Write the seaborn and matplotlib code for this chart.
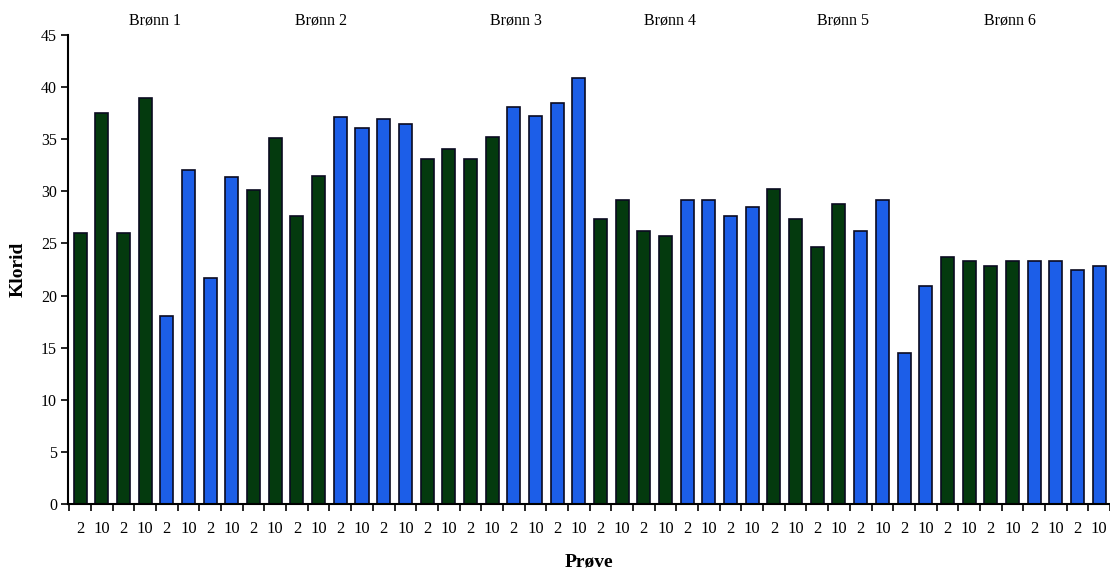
import pandas as pd
import numpy as np
import matplotlib.pyplot as plt
import seaborn as sns

# klorid values, 6 wells x 8 samples
klorid = [26.0, 37.5, 26.0, 39.0, 18.0, 32.0, 21.7, 31.4,
          30.1, 35.1, 27.6, 31.5, 37.1, 36.1, 36.9, 36.5,
          33.1, 34.1, 33.1, 35.2, 38.1, 37.2, 38.5, 40.9,
          27.3, 29.2, 26.2, 25.7, 29.2, 29.2, 27.6, 28.5,
          30.2, 27.3, 24.7, 28.8, 26.2, 29.2, 14.5, 20.9,
          23.7, 23.3, 22.8, 23.3, 23.3, 23.3, 22.5, 22.8]
serie = (["A"] * 4 + ["B"] * 4) * 6
prove = ["2", "10"] * 24
bronner = ["Brønn 1", "Brønn 2", "Brønn 3", "Brønn 4", "Brønn 5", "Brønn 6"]
bronn_x = [3.45, 11.1, 20.1, 27.2, 35.2, 42.9]

df = pd.DataFrame({"nr": range(len(klorid)), "klorid": klorid, "serie": serie})

sns.set_style("white")
plt.rcParams["font.family"] = ["Liberation Serif", "DejaVu Serif"]
plt.rcParams["text.color"] = "black"
plt.rcParams["axes.labelcolor"] = "black"
plt.rcParams["xtick.color"] = "black"
plt.rcParams["ytick.color"] = "black"

fig = plt.figure(figsize=(11.1, 5.71), dpi=100)
ax = fig.add_axes([68 / 1110, 67 / 571, 1042 / 1110, 469 / 571])

sns.barplot(data=df, x="nr", y="klorid", hue="serie",
            palette={"A": "#043a0e", "B": "#1c5ee8"}, saturation=1,
            dodge=False, width=0.6, edgecolor="#0a0a20", linewidth=1.2,
            legend=False, ax=ax)

ax.set_xlim(-0.56, 47.45)
ax.set_ylim(0, 45)
ax.set_yticks(range(0, 46, 5))
ax.set_xticks(range(len(klorid)))
ax.set_xticklabels(prove, fontsize=12)
ax.set_xticks(np.arange(-0.5, len(klorid), 1), minor=True)
ax.tick_params(axis="x", which="major", bottom=False, length=0, pad=12)
ax.tick_params(axis="x", which="minor", bottom=True, length=5, width=1.2,
               direction="out", color="black")
ax.tick_params(axis="y", left=True, length=5, width=1.2, direction="out",
               color="black", labelsize=11.5, pad=3)

for s in ["top", "right"]:
    ax.spines[s].set_visible(False)
for s in ["left", "bottom"]:
    ax.spines[s].set_color("black")
    ax.spines[s].set_linewidth(1.5)

ax.set_xlabel("Prøve", fontsize=14, fontweight="bold", labelpad=12)
ax.set_ylabel("Klorid", fontsize=14, fontweight="bold", labelpad=10)

for navn, xb in zip(bronner, bronn_x):
    ax.text(xb, 46.4, navn, ha="center", va="center", fontsize=11.5)

fig.savefig("out.png", dpi=100)
